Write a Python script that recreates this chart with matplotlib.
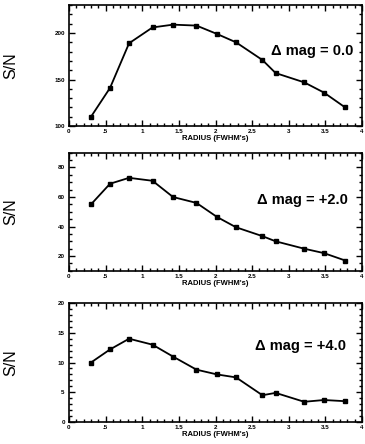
import matplotlib
matplotlib.use('Agg')
import matplotlib.pyplot as plt
from matplotlib.ticker import MultipleLocator, FixedLocator, FixedFormatter

plt.rcParams['font.family'] = ['Liberation Sans', 'DejaVu Sans']

# radius in FWHM's (same sampling in all three panels)
radius = [0.30, 0.56, 0.82, 1.14, 1.42, 1.74, 2.02, 2.28, 2.64, 2.82, 3.21, 3.48, 3.77]

sn_mag0 = [110, 141, 189, 206, 209, 208, 199, 190, 171, 157, 147, 136, 120]
sn_mag2 = [55, 69, 73, 71, 60, 56, 46.5, 39.5, 33.5, 30, 25, 22, 17]
sn_mag4 = [10, 12.2, 14, 13, 11, 8.8, 8, 7.5, 4.5, 4.9, 3.4, 3.7, 3.5]

labels = ['\u0394 mag = 0.0', '\u0394 mag = +2.0', '\u0394 mag = +4.0']

xticks = [0, 0.5, 1, 1.5, 2, 2.5, 3, 3.5, 4]
xtick_labels = ['0', '.5', '1', '1.5', '2', '2.5', '3', '3.5', '4']

fig = plt.figure(figsize=(3.65, 4.44), dpi=100)

# [left, bottom, width, height], ylim, major, minor, text position
panels = [
    ([0.189, 0.716, 0.803, 0.2725], (100, 230), 50, 10, (0.969, 0.62), sn_mag0),
    ([0.189, 0.390, 0.803, 0.266], (10, 90), 20, 5, (0.950, 0.60), sn_mag2),
    ([0.189, 0.0495, 0.803, 0.268], (0, 20), 5, 1, (0.946, 0.64), sn_mag4),
]

for (rect, ylim, major, minor, tpos, values), lab in zip(panels, labels):
    ax = fig.add_axes(rect)
    ax.plot(radius, values, color='black', lw=1.3, marker='s', ms=2.6)
    ax.set_xlim(0, 4)
    ax.set_ylim(*ylim)
    ax.xaxis.set_major_locator(FixedLocator(xticks))
    ax.xaxis.set_major_formatter(FixedFormatter(xtick_labels))
    ax.xaxis.set_minor_locator(MultipleLocator(0.1))
    ax.yaxis.set_major_locator(MultipleLocator(major))
    ax.yaxis.set_minor_locator(MultipleLocator(minor))
    ax.tick_params(which='both', direction='in', top=True, right=True, width=1.0)
    ax.tick_params(which='major', length=4.5)
    ax.tick_params(which='minor', length=2.2)
    ax.tick_params(axis='x', labelsize=4.5, pad=2)
    ax.tick_params(axis='y', labelsize=4.5, pad=3)
    for t in ax.get_xticklabels() + ax.get_yticklabels():
        t.set_fontweight('bold')
    for s in ax.spines.values():
        s.set_linewidth(1.2)
    ax.set_xlabel("RADIUS (FWHM's)", fontsize=5.5, fontweight='bold', labelpad=1)
    ax.set_ylabel('S/N', fontsize=11.5)
    ax.yaxis.set_label_coords(-0.174, 0.5)
    ax.text(tpos[0], tpos[1], lab, transform=ax.transAxes, ha='right', va='center',
            fontsize=10.5, fontweight='bold')

plt.savefig('out.png', dpi=100)
